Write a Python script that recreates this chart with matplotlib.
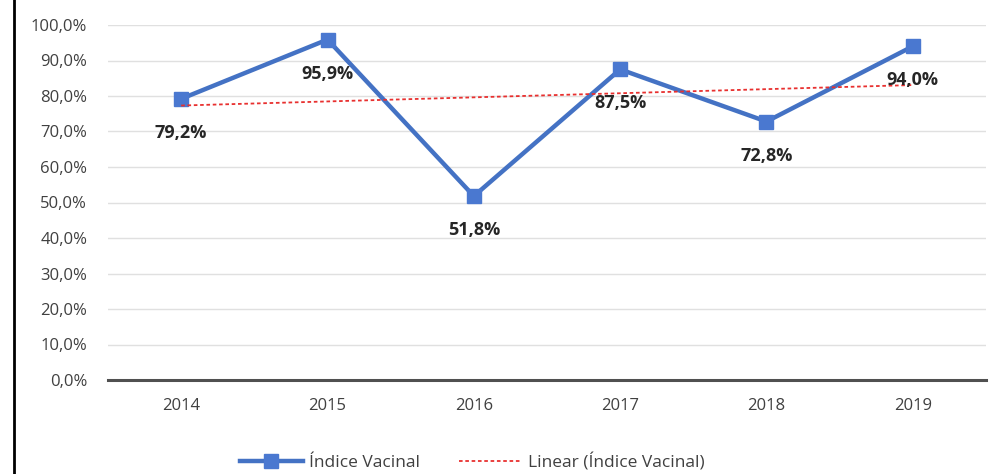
import matplotlib.pyplot as plt
import numpy as np
from matplotlib.lines import Line2D

years = ["2014", "2015", "2016", "2017", "2018", "2019"]
indice = [79.2, 95.9, 51.8, 87.5, 72.8, 94.0]
label_texts = ["79,2%", "95,9%", "51,8%", "87,5%", "72,8%", "94,0%"]
yticks = [0, 10, 20, 30, 40, 50, 60, 70, 80, 90, 100]

plt.rcParams["font.family"] = ["Open Sans", "DejaVu Sans"]

fig = plt.figure(figsize=(10.02, 4.74), dpi=100)
ax = fig.add_axes([108 / 1002, 1 - 380 / 474, (986 - 108) / 1002, (380 - 25) / 474])

x = np.arange(len(years))

# Excel-style linear trendline
coef = np.polyfit(x, indice, 1)
trend = np.polyval(coef, x)
ax.plot(x, trend, color="#e8302f", lw=1.3, linestyle=(0, (2, 1.5)), zorder=4,
        label="Linear (Índice Vacinal)")

ax.plot(x, indice, color="#4472c4", lw=3.2, marker="s", markersize=10,
        markerfacecolor="#4a78d0", markeredgecolor="#4a78d0", zorder=3,
        label="Índice Vacinal")

for xi, yi, t in zip(x, indice, label_texts):
    ax.annotate(t, (xi, yi), xytext=(0, -34), textcoords="offset pixels",
                ha="center", va="center", fontsize=13, fontweight="bold",
                color="#262626", zorder=5)

ax.set_xlim(-0.5, len(years) - 0.5)
ax.set_ylim(0, 100)
ax.set_yticks(yticks)
ax.set_yticklabels([f"{v},0%" for v in yticks])
ax.set_xticks(x)
ax.set_xticklabels(years)
ax.tick_params(axis="both", length=0, labelsize=12, colors="#404040")
ax.tick_params(axis="y", pad=15)
ax.tick_params(axis="x", pad=13)

ax.grid(axis="y", color="#e0e0e0", lw=1)
ax.set_axisbelow(True)
for s in ["top", "right", "left"]:
    ax.spines[s].set_visible(False)
ax.spines["bottom"].set_color("#505050")
ax.spines["bottom"].set_linewidth(2.2)

handles, labels = ax.get_legend_handles_labels()
ax.legend(handles[::-1], labels[::-1], loc="center", bbox_to_anchor=(0.415, -0.231),
          ncol=2, frameon=False, fontsize=12.5, handlelength=3.6, columnspacing=2.2,
          handletextpad=0.4, labelcolor="#404040")

fig.add_artist(Line2D([14 / 1002, 14 / 1002], [0, 1], transform=fig.transFigure,
                      color="black", lw=2))

fig.savefig("out.png", dpi=100)
